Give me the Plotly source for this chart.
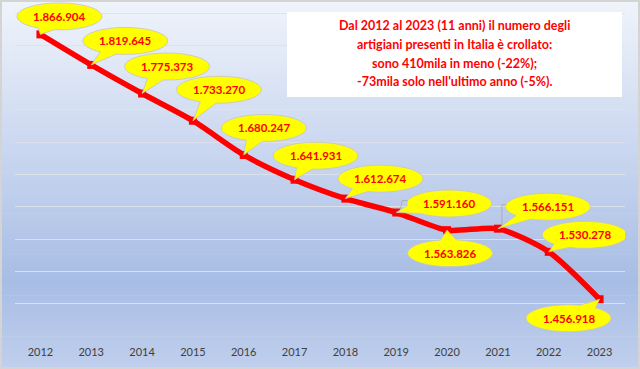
import math
import plotly.graph_objects as go

# ---------------- data ----------------
years = [2012, 2013, 2014, 2015, 2016, 2017, 2018, 2019, 2020, 2021, 2022, 2023]
artigiani = [1866904, 1819645, 1775373, 1733270, 1680247, 1641931,
             1612674, 1591160, 1563826, 1566151, 1530278, 1456918]
value_labels = ["1.866.904", "1.819.645", "1.775.373", "1.733.270", "1.680.247", "1.641.931",
                "1.612.674", "1.591.160", "1.563.826", "1.566.151", "1.530.278", "1.456.918"]
x_tick_labels = [str(y) for y in years]
grid_values = [1400000, 1450000, 1500000, 1550000, 1600000, 1650000,
               1700000, 1750000, 1800000, 1850000, 1900000]
note_lines = [
    "Dal 2012 al 2023 (11 anni) il numero degli",
    "artigiani presenti in Italia è crollato:",
    "sono 410mila in meno (-22%);",
    "-73mila solo nell'ultimo anno (-5%).",
]

# callout ellipse centre offsets from each point (pixels, y up)
callout_dx = [19, 34, 25, 26, 20, 21, 35, 53, 3, 50, 36, -31]
callout_dy = [18, 24, 27, 31, 27, 24, 20, 9, -23, 22, 17, -19]

# ---------------- geometry / style ----------------
W, H = 640, 369
ML, MR, MT, MB = 15, 15, 0, 33
PW, PH = W - ML - MR, H - MT - MB
px_per_unit = 323 / 500000.0
y_top = 1900000 + 13 / px_per_unit
A, B = 42.5, 13.5   # ellipse semi-axes (px)

def px_x(p):
    return (p - ML) / PW

def px_y(p):
    return 1 - (p - MT) / PH

shapes = []

# background gradient
stops = [(0.0, (240, 244, 251)), (0.76, (168, 189, 229)), (1.0, (192, 207, 236))]

def grad(f):
    for i in range(len(stops) - 1):
        f0, c0 = stops[i]
        f1, c1 = stops[i + 1]
        if f <= f1:
            t = (f - f0) / (f1 - f0)
            return tuple(int(round(c0[k] + (c1[k] - c0[k]) * t)) for k in range(3))
    return stops[-1][1]

nb = 90
for i in range(nb):
    p0 = H * i / nb
    p1 = H * (i + 1) / nb + 0.6
    c = grad((i + 0.5) / nb)
    shapes.append(dict(type="rect", xref="paper", yref="paper",
                       x0=px_x(0), x1=px_x(W), y0=px_y(p0), y1=px_y(p1),
                       fillcolor="rgb(%d,%d,%d)" % c, line=dict(width=0), layer="below"))

# note box
shapes.append(dict(type="rect", xref="paper", yref="paper",
                   x0=px_x(287), x1=px_x(622), y0=px_y(12), y1=px_y(97),
                   fillcolor="white", line=dict(width=0), layer="above"))

# outer border
shapes.append(dict(type="rect", xref="paper", yref="paper",
                   x0=px_x(1), x1=px_x(639), y0=px_y(1), y1=px_y(368),
                   fillcolor="rgba(0,0,0,0)", line=dict(color="#d4d4d4", width=2), layer="above"))

# leader lines (2019, 2021)
leaders = {2019: [(4, 3), (6, 12), (13, 12)], 2021: [(4, 4), (4, 24), (10, 24)]}

annotations = []
for i, (yr, v) in enumerate(zip(years, artigiani)):
    dx, dy = callout_dx[i], callout_dy[i]
    base = dict(xref="x", yref="y", xsizemode="pixel", ysizemode="pixel",
                xanchor=yr, yanchor=v, layer="above")
    if yr in leaders:
        pts = leaders[yr]
        path = "M " + " L ".join("%.2f,%.2f" % p for p in pts)
        shapes.append(dict(base, type="path", path=path,
                           line=dict(color="#a6a6a6", width=0.75)))
    shapes.append(dict(base, type="circle", x0=dx - A, x1=dx + A, y0=dy - B, y1=dy + B,
                       fillcolor="#ffff00", line=dict(color="#c4c4c4", width=0.8)))
    t0 = math.atan2(-dy / B, -dx / A)
    speed = math.hypot(A * math.sin(t0), B * math.cos(t0))
    dlt = 8.0 / speed
    p1 = (dx + A * math.cos(t0 + dlt), dy + B * math.sin(t0 + dlt))
    p2 = (dx + A * math.cos(t0 - dlt), dy + B * math.sin(t0 - dlt))
    fillpath = "M %.2f,%.2f L 0,0 L %.2f,%.2f L %.2f,%.2f Z" % (p1[0], p1[1], p2[0], p2[1], dx, dy)
    shapes.append(dict(base, type="path", path=fillpath, fillcolor="#ffff00",
                       line=dict(width=0)))
    linepath = "M %.2f,%.2f L 0,0 L %.2f,%.2f" % (p1[0], p1[1], p2[0], p2[1])
    shapes.append(dict(base, type="path", path=linepath,
                       line=dict(color="#c4c4c4", width=0.8)))
    annotations.append(dict(x=yr, y=v, xref="x", yref="y", text="<b>%s</b>" % value_labels[i],
                            showarrow=False, xshift=dx, yshift=dy,
                            font=dict(family="Lato", size=11.5, color="#ff0000")))

line_y = [26, 44.5, 63, 81.5]
for txt, ly in zip(note_lines, line_y):
    annotations.append(dict(x=px_x(454.5), y=px_y(ly), xref="paper", yref="paper",
                            text="<b>%s</b>" % txt, showarrow=False,
                            xanchor="center", yanchor="middle",
                            font=dict(family="Lato", size=12.5, color="#ff0000")))

fig = go.Figure()
fig.add_trace(go.Scatter(
    x=years, y=artigiani, mode="lines+markers",
    line=dict(color="#ff0000", width=5.5, shape="spline", smoothing=0.7),
    marker=dict(symbol="square", size=8, color="#ff0000"),
    hoverinfo="x+y", showlegend=False,
))

fig.update_layout(
    width=W, height=H, autosize=False,
    margin=dict(l=ML, r=MR, t=MT, b=MB, pad=0),
    paper_bgcolor="white", plot_bgcolor="rgba(0,0,0,0)",
    shapes=shapes, annotations=annotations,
    xaxis=dict(range=[2011.5, 2023.5], tickmode="array", tickvals=years, ticktext=x_tick_labels,
               showgrid=False, zeroline=False, showline=False,
               ticks="outside", ticklen=6, tickcolor="rgba(0,0,0,0)",
               tickfont=dict(family="Lato", size=11, color="#404040"), fixedrange=True),
    yaxis=dict(range=[1400000, y_top], tickmode="array", tickvals=grid_values,
               showticklabels=False, showgrid=True, gridcolor="rgba(222,226,234,0.95)",
               gridwidth=1, zeroline=False, showline=False, ticks="", fixedrange=True),
)

fig.write_html("out.html", config={"displayModeBar": False},
               post_script="document.body.style.margin='0';document.body.style.overflow='hidden';")
